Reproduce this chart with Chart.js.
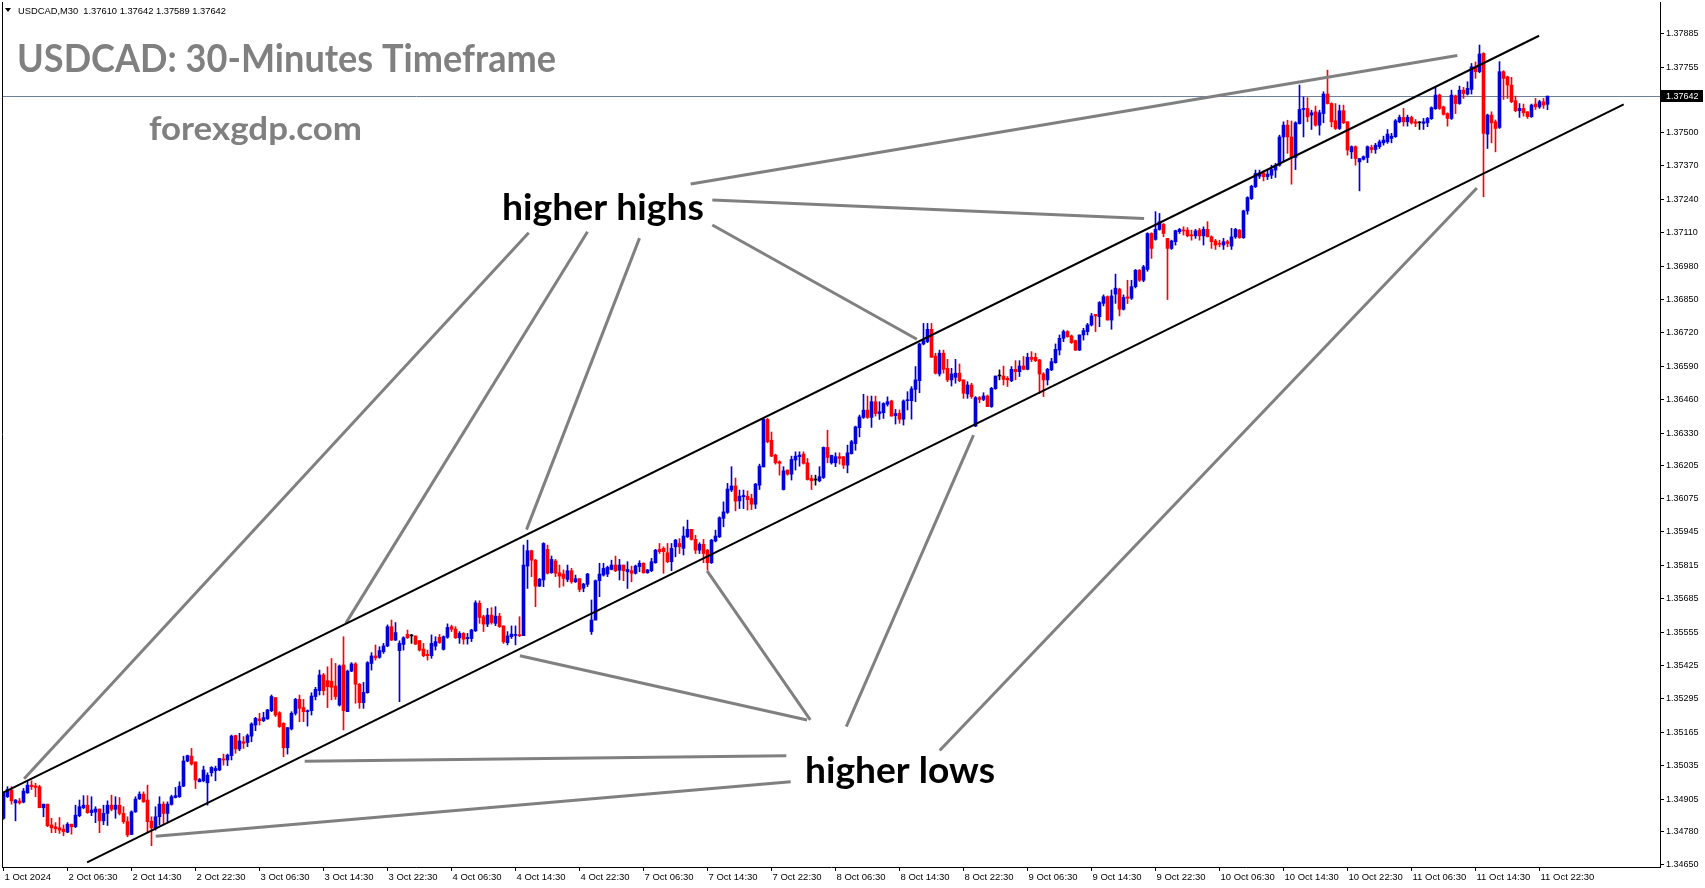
<!DOCTYPE html>
<html><head><meta charset="utf-8">
<script src="https://cdn.jsdelivr.net/npm/chart.js@4.4.1/dist/chart.umd.min.js"></script>
<style>html,body{margin:0;padding:0;background:#fff;overflow:hidden}canvas{display:block}</style>
</head><body>
<canvas id="c" width="1705" height="888"></canvas>
<script>
// ---------- data ----------
const timeLabels = ["1 Oct 2024","2 Oct 06:30","2 Oct 14:30","2 Oct 22:30","3 Oct 06:30","3 Oct 14:30","3 Oct 22:30","4 Oct 06:30","4 Oct 14:30","4 Oct 22:30","7 Oct 06:30","7 Oct 14:30","7 Oct 22:30","8 Oct 06:30","8 Oct 14:30","8 Oct 22:30","9 Oct 06:30","9 Oct 14:30","9 Oct 22:30","10 Oct 06:30","10 Oct 14:30","10 Oct 22:30","11 Oct 06:30","11 Oct 14:30","11 Oct 22:30"];
const barsPerLabel = 16;
const priceTicks = [1.37885,1.37755,1.37630,1.37500,1.37370,1.37240,1.37110,1.36980,1.36850,1.36720,1.36590,1.36460,1.36330,1.36205,1.36075,1.35945,1.35815,1.35685,1.35555,1.35425,1.35295,1.35165,1.35035,1.34905,1.34780,1.34650];
const lastPrice = 1.37642;
const headerText = "USDCAD,M30  1.37610 1.37642 1.37589 1.37642";

const opens = [
1.34830,1.34914,1.34940,1.34890,1.34897,1.34893,1.34929,1.34959,1.34956,1.34953,
1.34871,1.34885,1.34804,1.34797,1.34793,1.34788,1.34776,1.34807,1.34797,1.34840,
1.34871,1.34881,1.34852,1.34854,1.34866,1.34820,1.34849,1.34881,1.34865,1.34881,
1.34849,1.34817,1.34767,1.34855,1.34906,1.34924,1.34901,1.34819,1.34791,1.34836,
1.34885,1.34849,1.34884,1.34911,1.34914,1.34955,1.35053,1.35072,1.35049,1.34972,
1.34976,1.34968,1.35007,1.35015,1.35018,1.35061,1.35057,1.35074,1.35152,1.35100,
1.35128,1.35125,1.35150,1.35193,1.35217,1.35210,1.35217,1.35249,1.35300,1.35241,
1.35200,1.35105,1.35178,1.35239,1.35293,1.35261,1.35245,1.35249,1.35304,1.35327,
1.35388,1.35366,1.35364,1.35345,1.35271,1.35427,1.35245,1.35403,1.35431,1.35352,
1.35280,1.35319,1.35433,1.35462,1.35457,1.35479,1.35501,1.35576,1.35524,1.35483,
1.35507,1.35546,1.35540,1.35540,1.35522,1.35489,1.35468,1.35463,1.35500,1.35535,
1.35488,1.35535,1.35576,1.35567,1.35533,1.35550,1.35529,1.35530,1.35560,1.35667,
1.35615,1.35586,1.35621,1.35589,1.35617,1.35579,1.35514,1.35537,1.35542,1.35544,
1.35541,1.35812,1.35872,1.35835,1.35734,1.35758,1.35877,1.35786,1.35832,1.35786,
1.35781,1.35760,1.35794,1.35751,1.35763,1.35726,1.35741,1.35557,1.35602,1.35755,
1.35777,1.35781,1.35799,1.35816,1.35796,1.35816,1.35790,1.35794,1.35784,1.35810,
1.35823,1.35786,1.35794,1.35825,1.35877,1.35881,1.35864,1.35829,1.35887,1.35900,
1.35881,1.35926,1.35955,1.35916,1.35874,1.35897,1.35874,1.35825,1.35910,1.35926,
1.35998,1.36021,1.36108,1.36124,1.36066,1.36082,1.36084,1.36075,1.36053,1.36127,
1.36198,1.36383,1.36302,1.36244,1.36218,1.36110,1.36186,1.36170,1.36225,1.36238,
1.36248,1.36214,1.36153,1.36147,1.36144,1.36157,1.36274,1.36214,1.36214,1.36238,
1.36238,1.36205,1.36250,1.36289,1.36351,1.36391,1.36419,1.36391,1.36452,1.36406,
1.36409,1.36442,1.36455,1.36398,1.36407,1.36384,1.36456,1.36456,1.36500,1.36534,
1.36677,1.36686,1.36734,1.36630,1.36560,1.36641,1.36582,1.36537,1.36547,1.36563,
1.36537,1.36482,1.36517,1.36357,1.36468,1.36461,1.36474,1.36433,1.36503,1.36552,
1.36552,1.36543,1.36534,1.36578,1.36569,1.36591,1.36578,1.36625,1.36625,1.36615,
1.36560,1.36537,1.36576,1.36604,1.36653,1.36699,1.36725,1.36708,1.36690,1.36653,
1.36712,1.36725,1.36751,1.36792,1.36783,1.36835,1.36861,1.36770,1.36871,1.36890,
1.36812,1.36860,1.36855,1.36900,1.36964,1.36925,1.36967,1.37107,1.37084,1.37123,
1.37143,1.37088,1.37049,1.37075,1.37114,1.37120,1.37120,1.37101,1.37098,1.37120,
1.37098,1.37123,1.37094,1.37078,1.37068,1.37062,1.37075,1.37058,1.37094,1.37120,
1.37091,1.37195,1.37243,1.37289,1.37330,1.37343,1.37328,1.37334,1.37354,1.37373,
1.37483,1.37529,1.37483,1.37403,1.37535,1.37590,1.37594,1.37568,1.37581,1.37529,
1.37574,1.37650,1.37613,1.37546,1.37516,1.37585,1.37542,1.37425,1.37445,1.37386,
1.37396,1.37403,1.37442,1.37434,1.37445,1.37460,1.37464,1.37477,1.37484,1.37542,
1.37559,1.37542,1.37559,1.37542,1.37538,1.37536,1.37538,1.37554,1.37593,1.37646,
1.37600,1.37574,1.37555,1.37643,1.37613,1.37665,1.37650,1.37668,1.37756,1.37737,
1.37808,1.37494,1.37568,1.37542,1.37520,1.37737,1.37717,1.37685,1.37624,1.37585,
1.37594,1.37581,1.37562,1.37611,1.37600,1.37620,1.37610];

const highs = [
1.34933,1.34953,1.34953,1.34903,1.34907,1.34946,1.34976,1.34976,1.34966,1.34959,
1.34885,1.34885,1.34830,1.34813,1.34833,1.34804,1.34813,1.34807,1.34881,1.34901,
1.34918,1.34918,1.34914,1.34875,1.34866,1.34881,1.34898,1.34920,1.34914,1.34911,
1.34875,1.34836,1.34859,1.34914,1.34933,1.34933,1.34959,1.34836,1.34875,1.34914,
1.34894,1.34894,1.34920,1.34950,1.34972,1.35072,1.35076,1.35102,1.35050,1.34985,
1.35033,1.35007,1.35031,1.35033,1.35063,1.35080,1.35080,1.35154,1.35154,1.35161,
1.35148,1.35158,1.35202,1.35223,1.35239,1.35243,1.35254,1.35310,1.35300,1.35245,
1.35202,1.35183,1.35245,1.35297,1.35310,1.35293,1.35252,1.35319,1.35340,1.35407,
1.35394,1.35420,1.35452,1.35433,1.35427,1.35537,1.35407,1.35436,1.35436,1.35355,
1.35359,1.35440,1.35475,1.35505,1.35498,1.35511,1.35583,1.35602,1.35592,1.35521,
1.35537,1.35563,1.35546,1.35540,1.35522,1.35511,1.35485,1.35544,1.35537,1.35546,
1.35540,1.35587,1.35582,1.35576,1.35557,1.35553,1.35550,1.35566,1.35677,1.35677,
1.35621,1.35647,1.35650,1.35654,1.35628,1.35579,1.35557,1.35579,1.35579,1.35615,
1.35894,1.35913,1.35874,1.35838,1.35764,1.35903,1.35894,1.35851,1.35838,1.35816,
1.35797,1.35816,1.35803,1.35777,1.35763,1.35745,1.35784,1.35680,1.35758,1.35823,
1.35823,1.35812,1.35835,1.35851,1.35838,1.35816,1.35829,1.35812,1.35816,1.35833,
1.35825,1.35799,1.35842,1.35877,1.35900,1.35887,1.35900,1.35900,1.35916,1.35919,
1.35965,1.35991,1.35955,1.35932,1.35903,1.35916,1.35877,1.35916,1.35952,1.36004,
1.36062,1.36134,1.36199,1.36155,1.36108,1.36108,1.36105,1.36092,1.36134,1.36209,
1.36387,1.36387,1.36334,1.36248,1.36222,1.36199,1.36186,1.36240,1.36257,1.36257,
1.36257,1.36231,1.36166,1.36166,1.36199,1.36276,1.36341,1.36244,1.36253,1.36253,
1.36238,1.36283,1.36302,1.36357,1.36400,1.36481,1.36474,1.36474,1.36474,1.36452,
1.36448,1.36471,1.36458,1.36422,1.36420,1.36459,1.36491,1.36511,1.36589,1.36680,
1.36757,1.36757,1.36757,1.36641,1.36653,1.36653,1.36617,1.36582,1.36617,1.36599,
1.36537,1.36530,1.36524,1.36472,1.36472,1.36487,1.36478,1.36508,1.36552,1.36576,
1.36591,1.36550,1.36589,1.36612,1.36612,1.36628,1.36641,1.36647,1.36641,1.36617,
1.36565,1.36582,1.36621,1.36677,1.36712,1.36731,1.36729,1.36712,1.36692,1.36712,
1.36738,1.36757,1.36796,1.36792,1.36842,1.36868,1.36864,1.36887,1.36949,1.36894,
1.36868,1.36925,1.36925,1.36967,1.36967,1.36983,1.37110,1.37110,1.37192,1.37185,
1.37146,1.37088,1.37081,1.37120,1.37127,1.37133,1.37130,1.37120,1.37123,1.37127,
1.37133,1.37153,1.37098,1.37084,1.37081,1.37088,1.37081,1.37127,1.37127,1.37123,
1.37198,1.37250,1.37295,1.37354,1.37354,1.37351,1.37356,1.37373,1.37380,1.37490,
1.37542,1.37548,1.37545,1.37542,1.37685,1.37639,1.37636,1.37587,1.37603,1.37587,
1.37659,1.37743,1.37616,1.37613,1.37607,1.37607,1.37542,1.37448,1.37448,1.37399,
1.37409,1.37448,1.37451,1.37458,1.37471,1.37486,1.37512,1.37497,1.37551,1.37568,
1.37594,1.37568,1.37564,1.37551,1.37542,1.37555,1.37559,1.37600,1.37678,1.37650,
1.37603,1.37577,1.37665,1.37646,1.37681,1.37676,1.37698,1.37769,1.37775,1.37841,
1.37811,1.37572,1.37581,1.37549,1.37776,1.37741,1.37720,1.37715,1.37642,1.37613,
1.37611,1.37581,1.37611,1.37633,1.37626,1.37633,1.37642];

const lows = [
1.34826,1.34911,1.34885,1.34820,1.34885,1.34890,1.34927,1.34942,1.34914,1.34871,
1.34836,1.34797,1.34774,1.34774,1.34771,1.34762,1.34774,1.34768,1.34794,1.34836,
1.34867,1.34849,1.34840,1.34813,1.34774,1.34805,1.34802,1.34859,1.34830,1.34843,
1.34810,1.34758,1.34767,1.34853,1.34903,1.34892,1.34778,1.34723,1.34784,1.34804,
1.34810,1.34817,1.34881,1.34909,1.34911,1.34953,1.35050,1.35037,1.34946,1.34972,
1.34972,1.34881,1.34994,1.34976,1.35015,1.35037,1.35035,1.35057,1.35083,1.35093,
1.35102,1.35109,1.35128,1.35171,1.35193,1.35206,1.35215,1.35245,1.35226,1.35184,
1.35070,1.35080,1.35174,1.35232,1.35206,1.35206,1.35189,1.35232,1.35291,1.35310,
1.35310,1.35261,1.35291,1.35293,1.35267,1.35174,1.35245,1.35401,1.35278,1.35258,
1.35258,1.35317,1.35407,1.35446,1.35453,1.35472,1.35498,1.35522,1.35522,1.35284,
1.35485,1.35530,1.35511,1.35507,1.35481,1.35459,1.35446,1.35453,1.35485,1.35511,
1.35485,1.35531,1.35557,1.35530,1.35511,1.35508,1.35508,1.35518,1.35557,1.35589,
1.35557,1.35576,1.35586,1.35580,1.35573,1.35511,1.35505,1.35530,1.35505,1.35537,
1.35541,1.35725,1.35771,1.35654,1.35732,1.35732,1.35781,1.35784,1.35771,1.35729,
1.35734,1.35751,1.35745,1.35748,1.35712,1.35712,1.35732,1.35546,1.35602,1.35693,
1.35773,1.35771,1.35797,1.35790,1.35758,1.35755,1.35725,1.35751,1.35781,1.35790,
1.35784,1.35784,1.35790,1.35823,1.35861,1.35784,1.35825,1.35794,1.35848,1.35861,
1.35855,1.35923,1.35913,1.35861,1.35861,1.35825,1.35796,1.35822,1.35906,1.35923,
1.35965,1.36017,1.36102,1.36027,1.36036,1.36036,1.36030,1.36032,1.36036,1.36110,
1.36198,1.36292,1.36238,1.36209,1.36166,1.36108,1.36166,1.36147,1.36186,1.36201,
1.36209,1.36147,1.36110,1.36127,1.36140,1.36153,1.36214,1.36209,1.36199,1.36209,
1.36192,1.36175,1.36248,1.36263,1.36315,1.36387,1.36387,1.36352,1.36396,1.36383,
1.36387,1.36435,1.36396,1.36365,1.36368,1.36361,1.36420,1.36384,1.36452,1.36487,
1.36673,1.36682,1.36625,1.36560,1.36552,1.36563,1.36530,1.36513,1.36524,1.36530,
1.36465,1.36465,1.36465,1.36355,1.36448,1.36456,1.36433,1.36430,1.36500,1.36537,
1.36517,1.36511,1.36530,1.36537,1.36550,1.36576,1.36576,1.36608,1.36608,1.36485,
1.36472,1.36517,1.36573,1.36602,1.36634,1.36686,1.36703,1.36679,1.36651,1.36651,
1.36692,1.36712,1.36747,1.36725,1.36744,1.36825,1.36770,1.36734,1.36835,1.36786,
1.36809,1.36834,1.36850,1.36895,1.36920,1.36919,1.36960,1.37010,1.37081,1.37120,
1.37094,1.36850,1.37045,1.37062,1.37107,1.37101,1.37094,1.37081,1.37088,1.37081,
1.37062,1.37094,1.37049,1.37045,1.37055,1.37045,1.37055,1.37045,1.37088,1.37088,
1.37088,1.37182,1.37239,1.37286,1.37321,1.37312,1.37317,1.37321,1.37325,1.37369,
1.37390,1.37419,1.37299,1.37356,1.37533,1.37483,1.37542,1.37512,1.37525,1.37490,
1.37538,1.37611,1.37522,1.37512,1.37512,1.37535,1.37412,1.37399,1.37373,1.37273,
1.37393,1.37383,1.37421,1.37419,1.37438,1.37451,1.37458,1.37460,1.37481,1.37538,
1.37525,1.37525,1.37533,1.37523,1.37512,1.37512,1.37523,1.37551,1.37590,1.37590,
1.37568,1.37525,1.37551,1.37574,1.37610,1.37633,1.37646,1.37650,1.37711,1.37733,
1.37250,1.37438,1.37460,1.37425,1.37516,1.37629,1.37633,1.37616,1.37581,1.37559,
1.37564,1.37555,1.37559,1.37590,1.37594,1.37594,1.37589];

const closes = [
1.34927,1.34942,1.34898,1.34901,1.34890,1.34936,1.34959,1.34953,1.34950,1.34871,
1.34885,1.34801,1.34793,1.34789,1.34784,1.34778,1.34807,1.34797,1.34842,1.34875,
1.34881,1.34852,1.34862,1.34866,1.34820,1.34849,1.34881,1.34865,1.34881,1.34849,
1.34817,1.34765,1.34855,1.34905,1.34924,1.34894,1.34817,1.34793,1.34836,1.34885,
1.34849,1.34885,1.34914,1.34918,1.34955,1.35053,1.35074,1.35041,1.34979,1.34981,
1.35018,1.34998,1.35028,1.35024,1.35063,1.35057,1.35076,1.35150,1.35100,1.35131,
1.35122,1.35152,1.35197,1.35219,1.35210,1.35222,1.35252,1.35304,1.35232,1.35187,
1.35105,1.35183,1.35239,1.35293,1.35258,1.35245,1.35249,1.35306,1.35332,1.35388,
1.35327,1.35342,1.35340,1.35304,1.35423,1.35249,1.35403,1.35431,1.35352,1.35280,
1.35320,1.35436,1.35462,1.35455,1.35483,1.35501,1.35576,1.35524,1.35553,1.35511,
1.35533,1.35533,1.35540,1.35508,1.35485,1.35463,1.35463,1.35511,1.35518,1.35514,
1.35537,1.35573,1.35566,1.35533,1.35550,1.35527,1.35534,1.35563,1.35669,1.35612,
1.35586,1.35621,1.35592,1.35617,1.35576,1.35517,1.35540,1.35547,1.35546,1.35541,
1.35816,1.35872,1.35835,1.35734,1.35761,1.35900,1.35784,1.35838,1.35784,1.35773,
1.35764,1.35794,1.35751,1.35763,1.35721,1.35742,1.35781,1.35602,1.35755,1.35781,
1.35803,1.35807,1.35816,1.35794,1.35816,1.35794,1.35799,1.35784,1.35812,1.35823,
1.35786,1.35797,1.35829,1.35874,1.35868,1.35868,1.35829,1.35881,1.35913,1.35887,
1.35929,1.35955,1.35916,1.35874,1.35897,1.35861,1.35825,1.35913,1.35929,1.36000,
1.36023,1.36112,1.36124,1.36065,1.36084,1.36087,1.36071,1.36053,1.36131,1.36201,
1.36383,1.36296,1.36240,1.36214,1.36212,1.36183,1.36170,1.36227,1.36240,1.36244,
1.36212,1.36149,1.36144,1.36147,1.36160,1.36274,1.36235,1.36243,1.36238,1.36231,
1.36205,1.36253,1.36296,1.36354,1.36393,1.36419,1.36391,1.36452,1.36406,1.36413,
1.36445,1.36452,1.36396,1.36406,1.36384,1.36455,1.36459,1.36502,1.36537,1.36677,
1.36690,1.36734,1.36625,1.36563,1.36641,1.36578,1.36537,1.36560,1.36563,1.36534,
1.36485,1.36517,1.36472,1.36468,1.36461,1.36474,1.36433,1.36504,1.36552,1.36552,
1.36539,1.36537,1.36578,1.36569,1.36591,1.36578,1.36625,1.36617,1.36612,1.36560,
1.36537,1.36578,1.36608,1.36656,1.36699,1.36725,1.36705,1.36682,1.36653,1.36712,
1.36729,1.36751,1.36786,1.36786,1.36838,1.36861,1.36770,1.36864,1.36894,1.36812,
1.36858,1.36855,1.36900,1.36964,1.36925,1.36977,1.37107,1.37049,1.37123,1.37153,
1.37107,1.37049,1.37078,1.37118,1.37123,1.37117,1.37098,1.37098,1.37117,1.37098,
1.37123,1.37094,1.37075,1.37062,1.37065,1.37075,1.37068,1.37094,1.37123,1.37091,
1.37195,1.37247,1.37291,1.37341,1.37343,1.37328,1.37338,1.37356,1.37373,1.37483,
1.37529,1.37483,1.37403,1.37538,1.37590,1.37594,1.37561,1.37577,1.37529,1.37577,
1.37650,1.37613,1.37542,1.37516,1.37585,1.37538,1.37432,1.37445,1.37399,1.37399,
1.37406,1.37445,1.37434,1.37451,1.37464,1.37471,1.37494,1.37486,1.37546,1.37559,
1.37542,1.37559,1.37538,1.37536,1.37538,1.37542,1.37555,1.37597,1.37646,1.37594,
1.37571,1.37555,1.37646,1.37613,1.37665,1.37652,1.37672,1.37756,1.37737,1.37806,
1.37497,1.37568,1.37538,1.37516,1.37737,1.37711,1.37685,1.37620,1.37585,1.37594,
1.37577,1.37562,1.37607,1.37600,1.37620,1.37607,1.37642];

// channel lines: [barIndex1, price1, barIndex2, price2]
const channelUpper = [-0.075, 1.34930, 383.9, 1.37877];
const channelLower = [20.9, 1.34658, 405.05, 1.37610];
// annotation pointer lines: [barIndex1, price1, barIndex2, price2]
const higherHighLines = [
  [5.15, 1.34984, 131.3, 1.37110],
  [85.6, 1.35590, 146.0, 1.37114],
  [130.75, 1.35954, 159.0, 1.37089],
  [228.35, 1.36695, 177.2, 1.37140],
  [285.15, 1.37165, 177.2, 1.37237],
  [363.45, 1.37800, 171.8, 1.37300]
];
const higherLowLines = [
  [38.05, 1.34760, 196.8, 1.34972],
  [75.3, 1.35052, 195.7, 1.35073],
  [129.1, 1.35463, 200.9, 1.35213],
  [175.9, 1.35793, 201.7, 1.35213],
  [242.5, 1.36322, 210.7, 1.35187],
  [368.35, 1.37284, 234.05, 1.35094]
];

// ---------- styling ----------
const BULL = '#0000d8', BEAR = '#ff0000', DOJI = '#000000';
const candleColor = opens.map((o, i) => closes[i] > o ? BULL : (closes[i] < o ? BEAR : DOJI));
const idx = opens.map((_, i) => i);

const segDataset = (seg, color, width) => ({
  type: 'line',
  data: [{x: seg[0], y: seg[1]}, {x: seg[2], y: seg[3]}],
  borderColor: color, borderWidth: width, pointRadius: 0, fill: false,
  tension: 0, order: 0, borderCapStyle: 'butt'
});

const datasets = [
  segDataset(channelUpper, '#000000', 2),
  segDataset(channelLower, '#000000', 2),
  ...higherHighLines.map(s => segDataset(s, '#808080', 3)),
  ...higherLowLines.map(s => segDataset(s, '#808080', 3)),
  {
    type: 'bar', label: 'body',
    data: idx.map(i => ({x: i, y: [Math.min(opens[i], closes[i]), Math.max(opens[i], closes[i])]})),
    backgroundColor: candleColor, barThickness: 3, minBarLength: 1, grouped: false, order: 1,
    borderWidth: 0
  },
  {
    type: 'bar', label: 'wick',
    data: idx.map(i => ({x: i, y: [lows[i], highs[i]]})),
    backgroundColor: candleColor, barThickness: 1, minBarLength: 1, grouped: false, order: 2,
    borderWidth: 0
  }
];

const FONT = 'Liberation Sans';

function drawFitted(ctx, text, x, baseline, capH, width, weight, family, color) {
  const size = capH / 0.72;
  ctx.font = `${weight} ${size}px "${family}"`;
  const w = ctx.measureText(text).width;
  ctx.save();
  ctx.translate(x, baseline);
  ctx.scale(width / w, 1);
  ctx.fillStyle = color;
  ctx.textBaseline = 'alphabetic';
  ctx.textAlign = 'left';
  ctx.fillText(text, 0, 0);
  ctx.restore();
}

const overlay = {
  id: 'overlay',
  beforeDatasetsDraw(chart) {
    const {ctx, chartArea: a, scales: {y}} = chart;
    const py = Math.round(y.getPixelForValue(lastPrice)) + 0.5;
    ctx.save();
    ctx.strokeStyle = '#70809a';
    ctx.lineWidth = 1;
    ctx.beginPath(); ctx.moveTo(a.left, py); ctx.lineTo(a.right, py); ctx.stroke();
    ctx.restore();
  },
  afterDraw(chart) {
    const {ctx, chartArea: a, scales: {y}} = chart;
    ctx.save();
    ctx.strokeStyle = '#000'; ctx.lineWidth = 1;
    ctx.beginPath(); ctx.moveTo(a.left + 0.5, a.top); ctx.lineTo(a.left + 0.5, a.bottom); ctx.stroke();
    ctx.fillStyle = '#000';
    ctx.beginPath(); ctx.moveTo(5, 8); ctx.lineTo(11, 8); ctx.lineTo(8, 12); ctx.closePath(); ctx.fill();
    drawFitted(ctx, headerText, 18, 14, 7, 208, 'normal', FONT, '#000');
    drawFitted(ctx, 'USDCAD: 30-Minutes Timeframe', 17, 71.5, 27, 539, 'bold', 'Lato', '#808080');
    drawFitted(ctx, 'forexgdp.com', 149, 140, 23, 213, 'bold', 'Lato', '#808080');
    drawFitted(ctx, 'higher highs', 502, 219.5, 26, 202, 'bold', 'Lato', '#000');
    drawFitted(ctx, 'higher lows', 805, 782.5, 26, 190, 'bold', 'Lato', '#000');
    const py = Math.round(y.getPixelForValue(lastPrice));
    ctx.fillStyle = '#000';
    ctx.fillRect(a.right + 1, py - 6, 42, 12);
    ctx.fillStyle = '#fff';
    ctx.font = `9px "${FONT}"`;
    ctx.textBaseline = 'middle'; ctx.textAlign = 'left';
    ctx.fillText(lastPrice.toFixed(5), a.right + 6, py + 0.5);
    ctx.restore();
  }
};

Chart.defaults.font.family = FONT;
new Chart(document.getElementById('c'), {
  type: 'bar',
  data: {datasets},
  plugins: [overlay],
  options: {
    responsive: false, animation: false, devicePixelRatio: 1, events: [],
    layout: {padding: {left: 2, top: 2, right: 0, bottom: 0}},
    plugins: {legend: {display: false}, tooltip: {enabled: false}},
    scales: {
      x: {
        type: 'linear', position: 'bottom', min: -0.375, max: 414.125, offset: false,
        afterFit: s => { s.height = 21; s.paddingLeft = 0; s.paddingRight = 0; },
        afterBuildTicks: s => { s.ticks = timeLabels.map((_, k) => ({value: k * barsPerLabel})); },
        ticks: {
          callback: (v, i) => timeLabels[i], align: 'start', labelOffset: 1,
          font: {family: FONT, size: 9.5}, color: '#000', maxRotation: 0, minRotation: 0,
          autoSkip: false, padding: 1
        },
        grid: {drawOnChartArea: false, drawTicks: true, tickLength: 4, color: '#000', offset: false},
        border: {display: true, color: '#000', width: 1}
      },
      y: {
        type: 'linear', position: 'right', min: 1.346403, max: 1.380084,
        afterFit: s => { s.width = 45; s.paddingTop = 0; s.paddingBottom = 0; },
        afterBuildTicks: s => { s.ticks = priceTicks.map(v => ({value: v})); },
        ticks: {
          callback: v => Number(v).toFixed(5), font: {family: FONT, size: 9}, color: '#000',
          padding: 2, autoSkip: false
        },
        grid: {drawOnChartArea: false, drawTicks: true, tickLength: 4, color: '#000'},
        border: {display: true, color: '#000', width: 1}
      }
    }
  }
});
</script>
</body></html>
